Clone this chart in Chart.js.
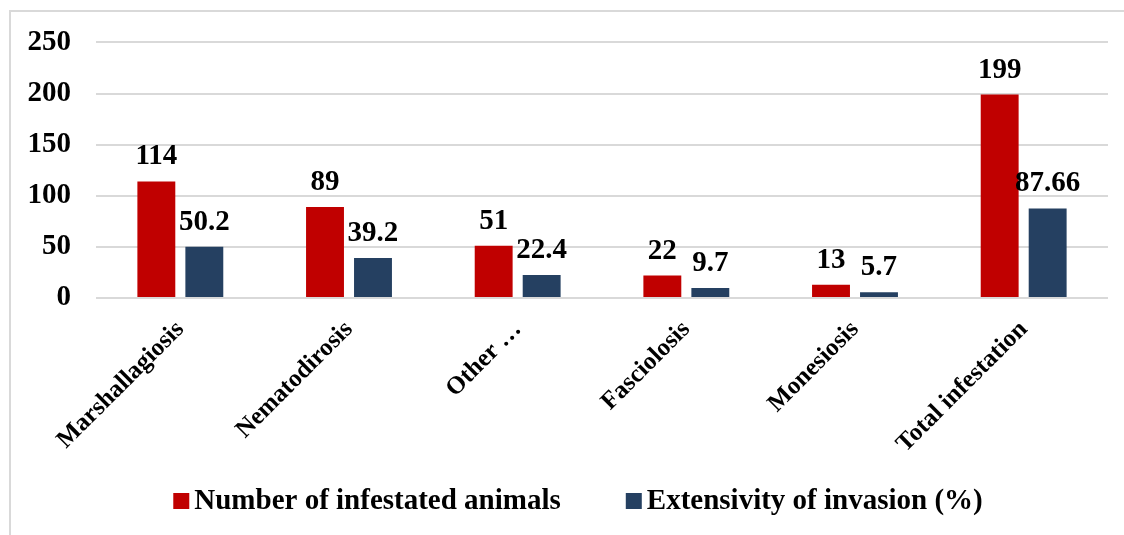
<!DOCTYPE html>
<html>
<head>
<meta charset="utf-8">
<script src="https://cdn.jsdelivr.net/npm/chart.js@4.4.1/dist/chart.umd.min.js"></script>
<style>
  html, body { margin: 0; padding: 0; background: #ffffff; }
  #wrap { position: relative; width: 1124px; height: 535px; overflow: hidden; }
  canvas { display: block; }
</style>
</head>
<body>
<div id="wrap"><canvas id="chart" width="1124" height="535"></canvas></div>
<script>
// Helminth infestations: counts and extensivity per disease
const categories = ['Marshallagiosis', 'Nematodirosis', 'Other …', 'Fasciolosis', 'Monesiosis', 'Total infestation'];
const infestedAnimals = [114, 89, 51, 22, 13, 199];
const extensivity = [50.2, 39.2, 22.4, 9.7, 5.7, 87.66];
const yTicks = [0, 50, 100, 150, 200, 250];
const seriesNames = ['Number of infestated animals', 'Extensivity of invasion (%)'];

const RED = '#C00000';
const NAVY = '#254061';
const GRID = '#d9d9d9';
const SERIF = '"Liberation Serif", "Times New Roman", serif';

// light outer frame around the chart
const framePlugin = {
  id: 'frame',
  beforeDraw(chart) {
    const ctx = chart.ctx;
    ctx.save();
    ctx.fillStyle = '#ffffff';
    ctx.fillRect(0, 0, chart.width, chart.height);
    ctx.strokeStyle = GRID;
    ctx.lineWidth = 2;
    ctx.strokeRect(10, 11, chart.width + 20, chart.height + 20);
    ctx.restore();
  }
};

// value labels above each bar
const valueLabels = {
  id: 'valueLabels',
  afterDatasetsDraw(chart) {
    const ctx = chart.ctx;
    ctx.save();
    ctx.font = 'bold 29px ' + SERIF;
    ctx.fillStyle = '#000000';
    ctx.textAlign = 'center';
    ctx.textBaseline = 'alphabetic';
    chart.data.datasets.forEach((ds, i) => {
      chart.getDatasetMeta(i).data.forEach((bar, j) => {
        ctx.fillText(String(ds.data[j]), bar.x, bar.y - 17);
      });
    });
    ctx.restore();
  }
};

// legend row under the category labels
const bottomLegend = {
  id: 'bottomLegend',
  afterDraw(chart) {
    const ctx = chart.ctx;
    ctx.save();
    ctx.font = 'bold 29px ' + SERIF;
    ctx.textBaseline = 'middle';
    ctx.textAlign = 'left';
    const box = 16, gapText = 5, gapItem = 65;
    const items = chart.data.datasets.map(ds => ({ label: ds.label, color: ds.backgroundColor }));
    const widths = items.map(it => box + gapText + ctx.measureText(it.label).width);
    const total = widths.reduce((a, b) => a + b, 0) + gapItem * (items.length - 1);
    let x = 578 - total / 2;
    const cy = 502;
    items.forEach((it, k) => {
      ctx.fillStyle = it.color;
      ctx.fillRect(x, cy - 9, box, box);
      ctx.fillStyle = '#000000';
      ctx.fillText(it.label, x + box + gapText, cy);
      x += widths[k] + gapItem;
    });
    ctx.restore();
  }
};

new Chart(document.getElementById('chart'), {
  type: 'bar',
  data: {
    labels: categories,
    datasets: [
      { label: seriesNames[0], data: infestedAnimals, backgroundColor: RED },
      { label: seriesNames[1], data: extensivity, backgroundColor: NAVY }
    ]
  },
  options: {
    responsive: false,
    animation: false,
    events: [],
    layout: { padding: { top: 41, right: 16, left: 0, bottom: 0 } },
    datasets: {
      bar: { categoryPercentage: 0.569, barPercentage: 0.79 }
    },
    plugins: {
      legend: { display: false },
      tooltip: { enabled: false },
      title: { display: false }
    },
    scales: {
      x: {
        grid: { display: false },
        border: { display: false },
        ticks: {
          minRotation: 45,
          maxRotation: 45,
          autoSkip: false,
          padding: 9,
          color: '#000000',
          font: { family: SERIF, size: 25, weight: 'bold' }
        },
        afterFit(scale) { scale.height = 237; }
      },
      y: {
        min: 0,
        max: 250,
        afterBuildTicks(scale) { scale.ticks = yTicks.map(v => ({ value: v })); },
        grid: { color: GRID, lineWidth: 2, drawTicks: false },
        border: { display: false },
        ticks: {
          padding: 25,
          color: '#000000',
          font: { family: SERIF, size: 29, weight: 'bold' }
        },
        afterFit(scale) { scale.width = 96; }
      }
    }
  },
  plugins: [framePlugin, valueLabels, bottomLegend]
});
</script>
</body>
</html>
